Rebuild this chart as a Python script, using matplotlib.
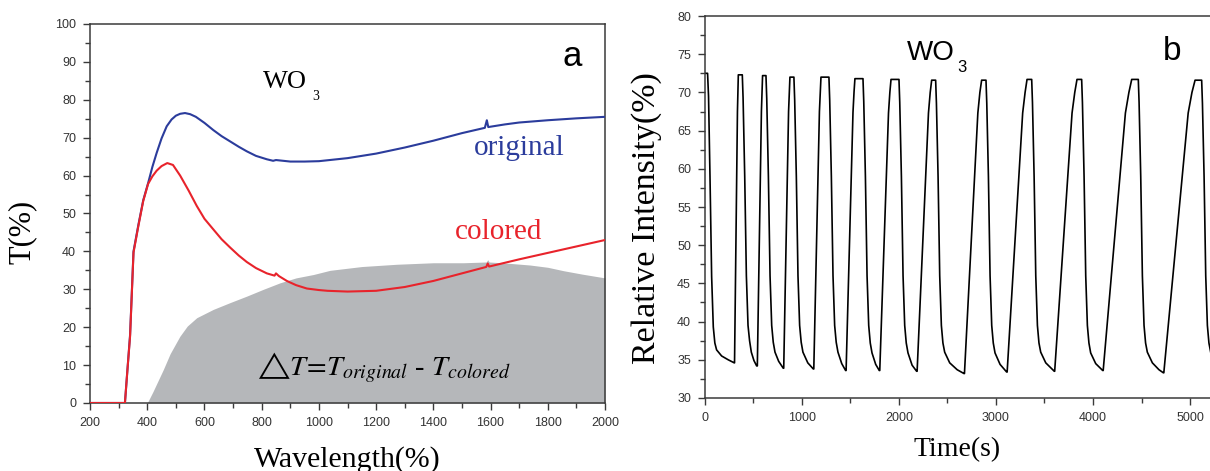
import matplotlib
matplotlib.use("Agg")
import matplotlib.pyplot as plt
from matplotlib.ticker import MultipleLocator

# panel a: transmittance spectra
wl_orig = [200, 322, 330, 340, 352, 369, 386, 403, 418, 433, 450, 468, 485, 500, 515,
           532, 550, 570, 600, 631, 660, 690, 720, 748, 780, 818, 840, 850, 900, 950,
           1000, 1100, 1200, 1300, 1400, 1500, 1580, 1587, 1592, 1600, 1650, 1700,
           1800, 1900, 2000]
t_orig = [0, 0, 8, 18, 40, 47, 53.5, 58, 62.3, 66, 69.8, 73, 74.8, 75.8, 76.3,
          76.5, 76.2, 75.5, 73.9, 72, 70.4, 69, 67.6, 66.4, 65.2, 64.3, 63.9, 64.1,
          63.7, 63.7, 63.8, 64.6, 65.8, 67.4, 69.2, 71.2, 72.6, 74.6, 72.8, 72.9,
          73.5, 74, 74.6, 75.1, 75.5]

wl_col = [200, 322, 330, 340, 352, 369, 386, 403, 418, 433, 450, 470, 490, 515, 545,
          573, 600, 631, 660, 690, 720, 748, 780, 818, 845, 850, 860, 888, 920, 958,
          1000, 1030, 1100, 1200, 1300, 1400, 1500, 1585, 1590, 1595, 1700, 1800,
          1900, 2000]
t_col = [0, 0, 8, 17.6, 39.7, 46.7, 53.3, 57.8, 59.8, 61.3, 62.5, 63.3, 62.8, 60, 56,
         52, 48.6, 45.8, 43.2, 41, 38.9, 37.2, 35.6, 34.2, 33.6, 34.2, 33.5, 32.2,
         31.1, 30.2, 29.8, 29.6, 29.4, 29.6, 30.6, 32.2, 34.2, 35.9, 36.8, 36,
         37.9, 39.6, 41.3, 43]

wl_dt = [400, 420, 456, 480, 514, 540, 573, 631, 690, 748, 806, 864, 920, 981, 1039,
         1150, 1272, 1400, 1505, 1585, 1590, 1595, 1657, 1738, 1800, 1855, 1920, 2000]
dt = [0, 3, 8.8, 13, 17.6, 20.3, 22.5, 24.7, 26.5, 28.2, 30, 31.7, 33, 33.9, 35,
      36, 36.6, 37, 37, 37.2, 37.8, 37.2, 36.9, 36.4, 35.8, 34.9, 34, 33]

# panel b: switching cycles, time (s) and relative intensity (%)
time_s = [
    0, 27, 37, 52, 69, 86, 102, 120, 172, 240, 302,
    305, 335, 340, 344, 385, 393, 410, 427, 444, 460, 478, 505, 533,
    540, 582, 589, 594, 629, 637, 654, 671, 688, 704, 722, 760, 807,
    812, 862, 870, 876, 917, 925, 942, 959, 976, 992, 1010, 1060, 1117,
    1122, 1180, 1189, 1196, 1278, 1286, 1303, 1320, 1337, 1353, 1371, 1410, 1450,
    1455, 1526, 1537, 1546, 1629, 1637, 1654, 1671, 1688, 1704, 1722, 1760, 1797,
    1802, 1892, 1906, 1918, 2000, 2008, 2025, 2042, 2059, 2075, 2093, 2135, 2182,
    2187, 2304, 2322, 2337, 2378, 2386, 2403, 2420, 2437, 2453, 2471, 2523, 2600, 2670,
    2675, 2813, 2834, 2852, 2897, 2905, 2922, 2939, 2956, 2972, 2990, 3042, 3110,
    3115, 3275, 3300, 3320, 3368, 3376, 3393, 3410, 3427, 3443, 3461, 3513, 3601,
    3605, 3784, 3812, 3835, 3883, 3891, 3908, 3925, 3942, 3958, 3976, 4028, 4100,
    4105, 4334, 4370, 4399, 4467, 4475, 4492, 4509, 4526, 4542, 4560, 4612, 4680, 4725,
    4730, 4981, 5020, 5052, 5120, 5128, 5145, 5162, 5179, 5195, 5213,
]
intensity = [
    72.5, 72.5, 69.5, 59, 45.9, 39.3, 37.2, 36.3, 35.5, 35.0, 34.6,
    34.6, 67.5, 70.3, 72.3, 72.3, 69.3, 59, 46, 39.5, 37.5, 36.0, 34.9, 34.2,
    34.2, 67.5, 70.3, 72.2, 72.2, 69.2, 59, 46, 39.5, 37.3, 36.0, 34.8, 33.9,
    33.9, 67.5, 70.2, 72.0, 72.0, 69.0, 59, 46, 39.5, 37.3, 36.0, 34.6, 33.8,
    33.8, 67.5, 70.2, 72.0, 72.0, 69.0, 59, 46, 39.5, 37.3, 36.0, 34.5, 33.6,
    33.6, 67.4, 70.1, 71.8, 71.8, 68.8, 59, 46, 39.5, 37.2, 35.9, 34.4, 33.6,
    33.6, 67.3, 70.0, 71.7, 71.7, 68.7, 59, 46, 39.5, 37.2, 35.9, 34.3, 33.5,
    33.5, 67.3, 70.0, 71.6, 71.6, 68.6, 59, 46, 39.5, 37.2, 36.0, 34.6, 33.7, 33.2,
    33.2, 67.3, 70.0, 71.6, 71.6, 68.6, 59, 46, 39.5, 37.2, 35.9, 34.4, 33.4,
    33.4, 67.3, 70.0, 71.7, 71.7, 68.7, 59, 46, 39.5, 37.2, 36.0, 34.6, 33.5,
    33.5, 67.3, 70.0, 71.7, 71.7, 68.7, 59, 46, 39.5, 37.2, 35.9, 34.5, 33.6,
    33.6, 67.3, 70.0, 71.7, 71.7, 68.7, 59, 46, 39.5, 37.2, 36.0, 34.6, 33.7, 33.3,
    33.3, 67.3, 70.0, 71.6, 71.6, 68.6, 59, 46, 39.5, 37.2, 36.0,
]

BLUE = "#2b3c9c"
RED = "#e8232b"
GRAY = "#b5b7ba"
SPINE = "#3a3a3a"
SERIF = "Liberation Serif"
SANS = "Liberation Sans"

plt.rcParams["font.family"] = SANS
plt.rcParams["mathtext.fontset"] = "stix"

fig = plt.figure(figsize=(12.1, 4.71), dpi=100)
ax1 = fig.add_axes([0.0744, 0.1444, 0.4256, 0.8047])
ax2 = fig.add_axes([0.5826, 0.155, 0.4174, 0.811])


def style(ax):
    for s in ax.spines.values():
        s.set_color(SPINE)
        s.set_linewidth(1.1)
    ax.tick_params(which="both", direction="out", top=False, right=False,
                   color=SPINE, labelcolor="#333333", labelsize=9, width=1.0)
    ax.tick_params(which="major", length=5, pad=5)
    ax.tick_params(which="minor", length=3.5)


# ---- panel a ----
ax1.fill_between(wl_dt, 0, dt, color=GRAY, linewidth=0, zorder=1)
ax1.plot(wl_orig, t_orig, color=BLUE, linewidth=1.5, zorder=3)
ax1.plot(wl_col, t_col, color=RED, linewidth=1.5, zorder=4)
ax1.set_xlim(200, 2000)
ax1.set_ylim(0, 100)
ax1.xaxis.set_major_locator(MultipleLocator(200))
ax1.xaxis.set_minor_locator(MultipleLocator(100))
ax1.yaxis.set_major_locator(MultipleLocator(10))
ax1.yaxis.set_minor_locator(MultipleLocator(5))
style(ax1)
ax1.set_xlabel("Wavelength(%)", family=SERIF, fontsize=21.5)
ax1.xaxis.set_label_coords(0.5, -0.113)
ax1.set_ylabel("T(%)", family=SERIF, fontsize=22)
ax1.yaxis.set_label_coords(-0.103, 0.451)

ax1.text(0.336, 0.831, "WO", transform=ax1.transAxes, family=SERIF, fontsize=19,
         ha="left", va="baseline")
ax1.text(0.431, 0.80, "3", transform=ax1.transAxes, family=SERIF, fontsize=10,
         ha="left", va="baseline")
ax1.text(0.936, 0.915, "a", transform=ax1.transAxes, family=SANS, fontsize=25,
         ha="center", va="center")
ax1.text(0.833, 0.654, "original", transform=ax1.transAxes, family=SERIF,
         fontsize=21, color=BLUE, ha="center", va="baseline")
ax1.text(0.794, 0.433, "colored", transform=ax1.transAxes, family=SERIF,
         fontsize=21, color=RED, ha="center", va="baseline")
ax1.text(0.571, 0.074, r"$\bigtriangleup T\!=\!T_{original}$ - $T_{colored}$",
         transform=ax1.transAxes, family=SERIF, fontsize=20.5, ha="center",
         va="baseline", math_fontfamily="stix")

# ---- panel b ----
ax2.plot(time_s, intensity, color="black", linewidth=1.2)
ax2.set_xlim(0, 5206)
ax2.set_ylim(30, 80)
ax2.xaxis.set_major_locator(MultipleLocator(1000))
ax2.xaxis.set_minor_locator(MultipleLocator(500))
ax2.yaxis.set_major_locator(MultipleLocator(5))
ax2.yaxis.set_minor_locator(MultipleLocator(2.5))
style(ax2)
ax2.spines["right"].set_visible(False)
ax2.set_xlabel("Time(s)", family=SERIF, fontsize=20)
ax2.xaxis.set_label_coords(0.5, -0.102)
ax2.set_ylabel("Relative Intensity(%)", family=SERIF, fontsize=24.5)
ax2.yaxis.set_label_coords(-0.085, 0.471)

ax2.text(0.40, 0.885, "WO", transform=ax2.transAxes, family=SANS, fontsize=20,
         ha="left", va="baseline")
ax2.text(0.499, 0.853, "3", transform=ax2.transAxes, family=SANS, fontsize=12,
         ha="left", va="baseline")
ax2.text(0.925, 0.906, "b", transform=ax2.transAxes, family=SANS, fontsize=24,
         ha="center", va="center")

fig.savefig("out.png", dpi=100)
